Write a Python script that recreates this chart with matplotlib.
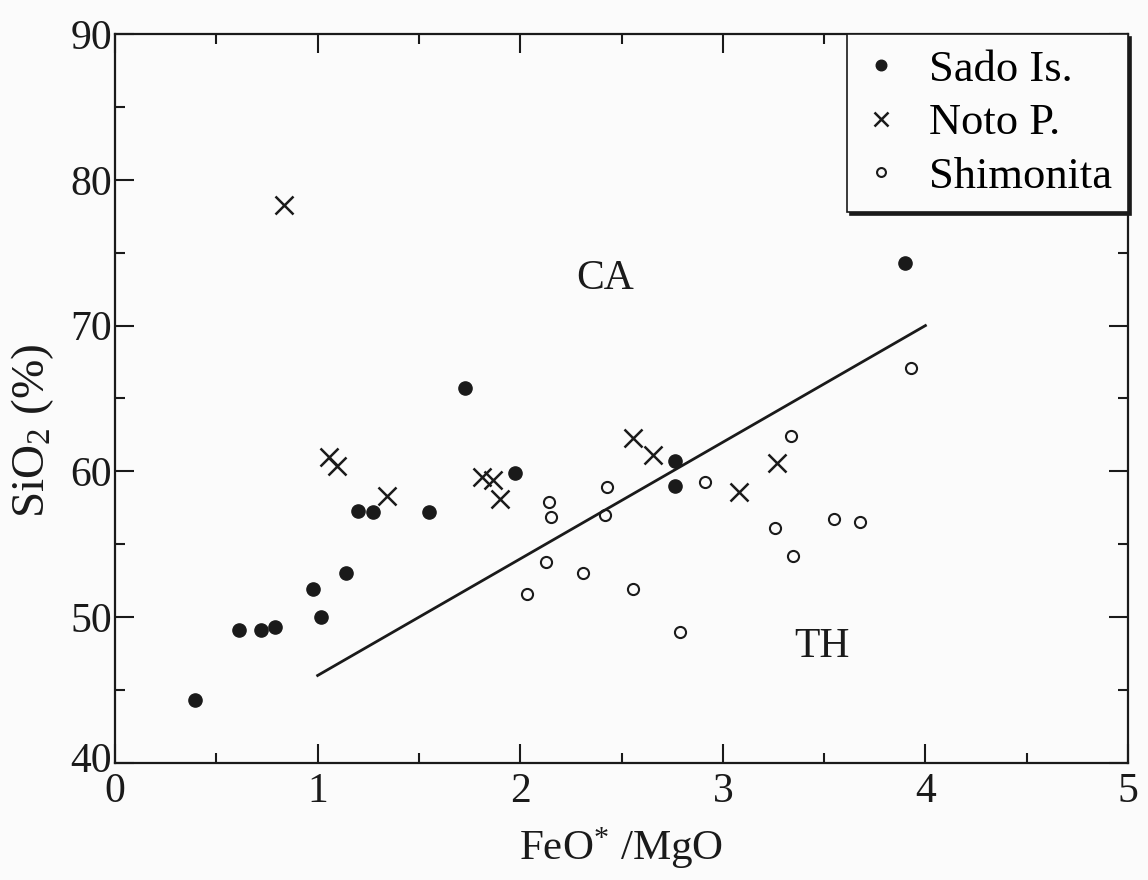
import matplotlib
matplotlib.use("Agg")
import matplotlib.pyplot as plt
import matplotlib.transforms as mtransforms
from matplotlib.ticker import MultipleLocator

# Data
sado_x = [0.395, 0.614, 0.722, 0.792, 0.977, 1.017, 1.142, 1.200, 1.272, 1.551,
          1.725, 1.972, 2.763, 2.763, 3.897]
sado_y = [44.3, 49.1, 49.1, 49.3, 51.9, 50.0, 53.0, 57.3, 57.2, 57.2,
          65.7, 59.9, 60.7, 59.0, 74.3]

noto_x = [0.835, 1.058, 1.096, 1.340, 1.813, 1.867, 1.900, 2.557, 2.656, 3.078, 3.267]
noto_y = [78.3, 61.0, 60.4, 58.3, 59.6, 59.4, 58.1, 62.3, 61.1, 58.6, 60.6]

shim_x = [2.142, 2.150, 2.430, 2.417, 2.126, 2.312, 2.035, 2.557, 2.913, 3.927,
          3.337, 3.259, 3.548, 3.675, 3.345, 2.788]
shim_y = [57.9, 56.9, 58.9, 57.0, 53.8, 53.0, 51.6, 51.9, 59.3, 67.1,
          62.4, 56.1, 56.7, 56.5, 54.2, 49.0]

line_x = [1.0, 4.0]
line_y = [46.0, 70.0]

labels = ["Sado Is.", "Noto P.", "Shimonita"]

plt.rcParams['font.family'] = ['Liberation Serif', 'DejaVu Serif']
plt.rcParams['mathtext.fontset'] = 'custom'
plt.rcParams['mathtext.rm'] = 'Liberation Serif'
plt.rcParams['mathtext.it'] = 'Liberation Serif:italic'

fig = plt.figure(figsize=(11.48, 8.8), dpi=100)
fig.patch.set_facecolor('#fbfbfb')
ax = fig.add_axes([0.1002, 0.133, 0.8824, 0.8284])
ax.set_facecolor('#fbfbfb')

ink = '#1a1a1a'
ax.plot(sado_x, sado_y, 'o', ms=9.5, color=ink, ls='none', label=labels[0])
ax.plot(noto_x, noto_y, 'x', ms=13, mew=1.8, color=ink, ls='none', label=labels[1])
ax.plot(shim_x, shim_y, 'o', ms=8, mfc='none', mew=1.5, mec=ink, ls='none', label=labels[2])
ax.plot(line_x, line_y, '-', color=ink, lw=2.0)

ax.set_xlim(0, 5)
ax.set_ylim(40, 90)
ax.xaxis.set_major_locator(MultipleLocator(1))
ax.xaxis.set_minor_locator(MultipleLocator(0.5))
ax.yaxis.set_major_locator(MultipleLocator(10))
ax.yaxis.set_minor_locator(MultipleLocator(5))
ax.tick_params(which='both', direction='in', top=True, right=True, color=ink,
               width=1.5, labelsize=30, labelcolor=ink)
ax.tick_params(which='major', length=14)
ax.tick_params(which='minor', length=7)
ax.tick_params(axis='y', pad=2)
ax.tick_params(axis='x', pad=7)
for s in ax.spines.values():
    s.set_linewidth(1.6)
    s.set_color(ink)

ax.set_xlabel(r'FeO$^{*}$ /MgO', fontsize=31, color=ink, labelpad=10)
ax.set_ylabel(r'SiO$_{2}$ (%)', fontsize=34, color=ink)
ax.yaxis.set_label_coords(-0.058, 0.455)

ax.text(2.42, 73.2, 'CA', fontsize=30, color=ink, ha='center', va='center')
ax.text(3.49, 48.0, 'TH', fontsize=30, color=ink, ha='center', va='center')

leg = ax.legend(loc='upper right', bbox_to_anchor=(1.0, 1.0), borderaxespad=0,
                prop={'size': 32}, frameon=True, fancybox=False,
                shadow={'color': ink, 'alpha': 1},
                markerscale=0.8, handlelength=0.8, handletextpad=0.7,
                labelspacing=0.3, borderpad=0.35)
leg.get_frame().set_edgecolor(ink)
leg.get_frame().set_linewidth(1.2)
leg.get_frame().set_facecolor('#fbfbfb')

# nudge the "40" label up slightly, as in the reference
fig.canvas.draw()
for lab in ax.get_yticklabels():
    if lab.get_text() in ('40',):
        lab.set_transform(lab.get_transform() +
                          mtransforms.ScaledTranslation(0, 6 / 100, fig.dpi_scale_trans))

fig.savefig('out.png', dpi=100, facecolor=fig.get_facecolor())
